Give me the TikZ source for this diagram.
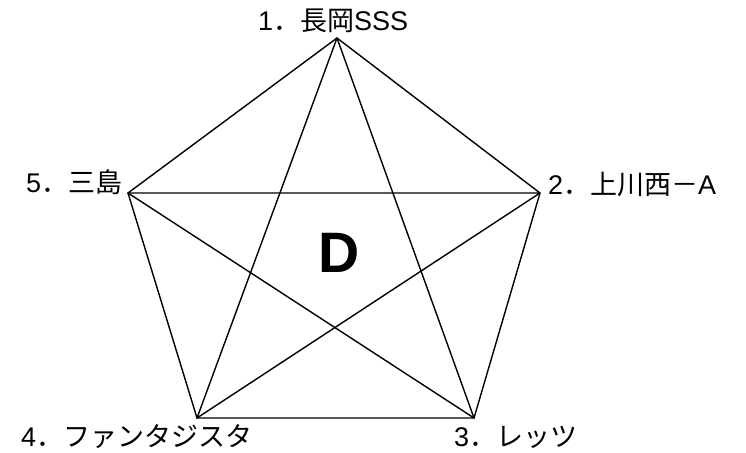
\documentclass[tikz,border=0pt]{standalone}
\usepackage{fontspec}
\setmainfont{Noto Sans CJK JP}
\newfontfamily\lat{Liberation Sans}
\usepackage{tikz}
\tikzset{
  every picture/.style={line join=round, line cap=round},
  edge/.style={line width=1.4pt},
  team/.style={inner sep=0pt, font=\fontsize{27}{31}\selectfont},
}

\begin{document}
\begin{tikzpicture}[x=1pt,y=-1pt]
\useasboundingbox (0,0) rectangle (746,452);
% corners of the pentagon
\coordinate (v1) at (337,38);
\coordinate (v2) at (540,193);
\coordinate (v3) at (474,418);
\coordinate (v4) at (197,418);
\coordinate (v5) at (128,193);
% outer ring
\draw[edge] (v1)--(v2)--(v3)--(v4)--(v5)--cycle;
% inner star
\draw[edge] (v1)--(v3) (v1)--(v4);
\draw[edge] (v2)--(v4) (v2)--(v5);
\draw[edge] (v3)--(v5);
% team names
\node[team,anchor=base west] (t1) at (258,31) {{\lat 1}．長岡{\lat SSS}};
\node[team,anchor=base west] (t2) at (548,194) {{\lat 2}．上川西－{\lat A}};
\node[team,anchor=base west] (t3) at (454,446) {{\lat 3}．レッツ};
\node[team,anchor=base west] (t4) at (21,446) {{\lat 4}．ファンタジスタ};
\node[team,anchor=base west] (t5) at (26,192) {{\lat 5}．三島};
\node[inner sep=0pt,font=\fontsize{57}{60}\selectfont\lat\bfseries] (grp) at (339,253) {D};
\end{tikzpicture}
\end{document}
